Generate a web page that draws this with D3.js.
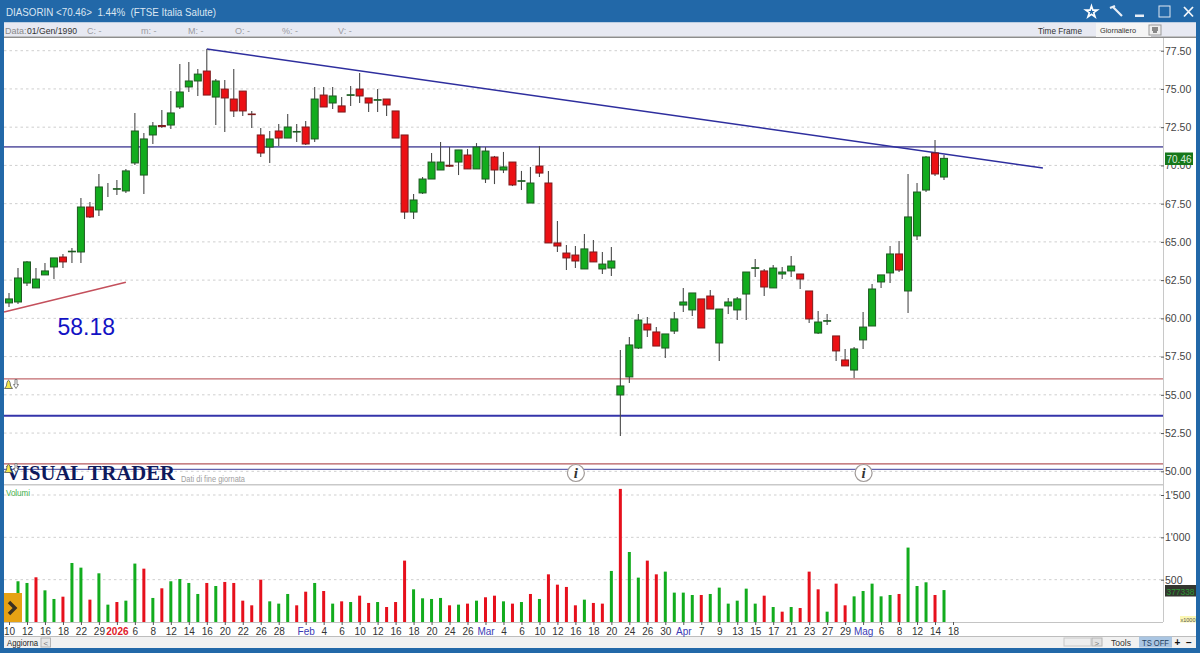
<!DOCTYPE html>
<html><head><meta charset="utf-8">
<script src="https://cdn.jsdelivr.net/npm/d3@7"></script>
<style>html,body{margin:0;padding:0;background:#fff;overflow:hidden}svg{display:block}text{font-family:"Liberation Sans",Arial,sans-serif}</style>
</head><body><svg id="c" width="1200" height="653"></svg>
<script>
const opens=[61.01,61.07,62.31,61.99,62.84,63.36,64.01,64.35,64.34,67.28,67.09,68.59,68.44,68.33,70.16,69.37,71.99,72.61,72.64,73.82,75.13,75.52,76.17,74.47,74.99,74.34,74.86,73.36,71.99,71.2,72.25,71.79,72.18,72.51,71.73,74.6,74.08,73.89,74.58,74.99,74.41,74.26,74.34,73.56,71.99,66.95,68.2,69.11,69.7,70.01,70.22,70.68,69.77,69.11,70.55,69.7,70.22,68.96,67.54,69.96,68.85,64.93,64.27,64.14,63.23,64.34,63.23,63.29,54.99,56.17,58.06,59.63,59.11,58.06,59.17,60.87,60.55,61.27,61.46,58.39,60.81,60.55,61.59,63.27,63.1,61.99,62.9,63.1,62.9,61.79,59.04,59.81,58.85,57.28,56.62,58.59,59.5,62.38,62.97,64.21,61.79,65.39,68.39,70.81,69.24];
const highs=[61.66,63.29,63.75,63.29,63.62,63.95,64.21,64.6,67.87,67.61,69.44,68.85,69.05,69.77,73.43,72.12,72.84,73.62,74.86,76.63,76.76,76.3,77.61,75.65,75.58,76.3,74.86,73.56,72.45,72.25,72.71,73.36,72.71,72.9,75.13,75.13,75.13,74.47,75.19,76.04,74.41,74.99,74.34,73.56,71.99,68.13,69.24,70.81,71.53,71.2,71.01,71.07,71.46,71.2,70.62,70.88,70.22,69.64,69.9,71.27,69.64,66.37,64.8,64.73,65.52,65.12,64.34,64.67,57.93,58.78,60.28,60.09,59.44,58.98,60.42,61.99,61.66,61.27,61.86,60.61,61.33,61.4,63.03,63.88,63.23,63.49,63.36,64.08,62.9,61.79,60.48,60.28,58.85,58,58.13,60.42,62.25,62.84,64.73,65.06,69.44,68.85,70.62,71.66,70.68];
const lows=[60.74,60.94,62.12,61.99,62.84,62.57,63.29,63.62,63.62,66.56,66.69,67.94,68.07,68.2,70.03,68.13,71.4,72.45,72.38,73.69,74.8,74.54,74.6,72.64,72.18,73.17,73.23,72.45,70.55,70.16,71.27,71.79,71.53,71.33,71.53,73.82,73.69,73.49,73.89,74.08,73.49,73.49,73.23,71.79,66.5,66.5,68.13,69.11,69.7,69.9,69.37,69.77,69.77,68.85,68.78,69.5,68.65,68.39,67.54,69.24,64.93,64.34,63.16,63.29,63.23,63.69,62.9,62.77,52.31,55.78,57.99,58.78,58.19,57.41,58.98,60.42,60.15,59.37,60.61,57.21,60.28,59.89,59.89,62.7,61.46,61.99,62.57,62.7,61.92,59.7,58.98,59.57,57.21,56.89,56.1,58,59.5,61.99,62.31,63.03,60.35,65.12,68.26,69.31,69.05];
const closes=[61.27,62.64,63.69,62.57,63.1,63.95,63.69,64.39,67.28,66.63,68.59,68.59,68.48,69.64,72.25,71.73,72.58,72.54,73.43,74.8,75.52,75.97,74.6,75.52,74.41,73.56,73.56,73.32,70.81,71.73,71.79,72.51,72.22,71.4,74.34,73.82,74.54,73.49,74.62,74.54,74.08,74.3,73.95,71.79,66.95,67.74,69.11,70.22,70.22,69.95,71.01,69.77,71.2,70.94,69.7,69.9,68.72,69,68.85,69.5,64.93,64.73,63.95,63.75,64.54,63.69,63.55,63.75,55.58,58.26,59.89,59.24,58.19,58.98,59.96,61.07,61.66,59.37,60.61,60.61,61.07,61.27,63.03,63.31,62.05,63.29,63.03,63.42,62.57,59.96,59.76,59.85,57.87,56.89,58,59.43,61.92,62.84,64.21,63.16,66.63,68.26,70.55,69.44,70.46];
const volumes=[300,481,461,528,374,272,299,697,642,264,575,205,236,252,690,630,284,398,481,508,461,331,461,425,473,461,252,197,500,244,217,331,197,358,461,366,217,244,236,311,225,236,177,236,725,386,280,272,284,197,205,217,252,292,311,244,217,236,331,272,563,441,414,197,264,225,217,603,1572,827,524,725,563,595,347,347,319,319,331,406,217,252,394,217,311,177,122,177,165,595,386,122,453,197,303,366,453,303,319,331,879,425,469,319,377];
const volumeUp=[1,1,1,0,1,1,0,1,1,0,1,1,0,1,1,0,1,0,1,1,1,1,0,1,0,0,0,0,0,1,1,1,0,0,1,0,1,0,1,0,0,1,0,0,0,1,1,1,1,0,1,0,1,0,0,1,0,1,0,1,0,0,0,0,1,0,0,1,0,1,1,0,0,1,1,1,1,0,1,1,1,1,1,1,0,1,0,1,0,0,0,1,0,0,1,1,1,1,1,0,1,1,1,0,1];
const dateTickIndex=[0,2,4,6,8,10,12,14,16,18,20,22,24,26,28,30,33,35,37,39,41,43,45,47,49,51,53,55,57,59,61,63,65,67,69,71,73,75,77,79,81,83,85,87,89,91,93,95,97,99,101,103,105];
const dateTickLabels=["10","12","16","18","22","29","2026","6","8","12","14","16","20","22","26","28","Feb","4","6","10","12","16","18","20","24","26","Mar","4","6","10","12","16","18","20","24","26","30","Apr","7","9","13","15","17","21","23","27","29","Mag","6","8","12","14","18"];
const priceTicks=[50,52.5,55,57.5,60,62.5,65,67.5,70,72.5,75,77.5];
const volumeTicks=[500,1000,1500];
const hLines=[{p:71.21,c:"#6c68ac",w:1.6},{p:56.04,c:"#c26a6e",w:1.3},{p:53.63,c:"#3434aa",w:2},{p:50.48,c:"#b4585c",w:1.3},{p:50.13,c:"#3c3c9c",w:1}];
const trendIndex=[[22,115],[-0.55,13]];
const trendPrice=[[77.61,69.83],[60.42,62.36]];
const trendColor=["#2e2e9e","#c4505c"];
const infoIndex=[63,95];

const svg=d3.select("#c");
const x=d3.scaleLinear().domain([0,105]).range([9,953]);
const y=d3.scaleLinear().domain([50,77.5]).range([471.3,50.7]);
const v=d3.scaleLinear().domain([0,1500]).range([622,495]);
const rect=(a,b,w,h,f,s)=>svg.append("rect").attr("x",a).attr("y",b).attr("width",w).attr("height",h).attr("fill",f).attr("stroke",s||"none");
const text=(a,b,t,o={})=>{const e=svg.append("text").attr("x",a).attr("y",b).text(t).attr("font-size",o.s||11).attr("fill",o.c||"#222").attr("font-weight",o.w||null).attr("font-style",o.i||null).attr("text-anchor",o.a||"start").attr("letter-spacing",o.l||null);if(o.f)e.style("font-family",o.f);if(o.len)e.attr("textLength",o.len).attr("lengthAdjust","spacingAndGlyphs");return e;};

// chrome
rect(0,0,1200,653,"#fff");
rect(0,0,1200,22.5,"#2268a8");
rect(0,0,4,653,"#2268a8");
rect(1196,0,4,653,"#2268a8");
rect(0,648,1200,5,"#2268a8");
rect(4,22.5,1192,14,"#e7e9f2");
rect(4,36.5,1192,1.5,"#8d8d8d");
text(6,16,"DIASORIN <70.46>  1.44%  (FTSE Italia Salute)",{s:11,c:"#dbe6f2",len:210}).style("white-space","pre");
text(5,34,"Data:",{s:9,c:"#8a8a8a"});
text(27,34,"01/Gen/1990",{s:9,c:"#333",len:50});
[["C: -",87],["m: -",141],["M: -",188],["O: -",235],["%: -",282],["V: -",338]].forEach(d=>text(d[1],34,d[0],{s:9,c:"#9a9aa0"}));
text(1038,34,"Time Frame",{s:9,c:"#333",len:44});
rect(1096,23,55,14,"#f5f5f5");
text(1100,33,"Giornaliero",{s:8,c:"#333",len:36});
rect(1149,25,12,10,"#eee","#999");
svg.append("path").attr("d","M1152 28h6M1152 30h6M1153 32h4").attr("stroke","#222").attr("fill","none");
// window icons
svg.append("path").attr("d",d3.symbol(d3.symbolStar,42)()).attr("transform","translate(1091.5,12)").attr("fill","none").attr("stroke","#fff").attr("stroke-width",1.6);
svg.append("path").attr("d","M1110 8l5 -2M1113 7l9 9").attr("stroke","#e8eef6").attr("stroke-width",2.2).attr("fill","none");
rect(1135,14.5,9,2.5,"#e8eef6");
rect(1159,6,11,11,"none","#dfe8f2");
svg.append("path").attr("d","M1184 7l9 9.5M1193 7l-9 9.5").attr("stroke","#f2f6fa").attr("stroke-width",1.8);

// grid
const grid=(vals,sc)=>svg.append("g").selectAll("line").data(vals).join("line").attr("x1",4).attr("x2",1161).attr("y1",d=>sc(d)).attr("y2",d=>sc(d)).attr("stroke","#cfcfcf").attr("stroke-dasharray","2.5,3");
grid(priceTicks,y);grid(volumeTicks,v);

rect(1163,38,1,584,"#c8c8c8");
rect(4,622,1159,1,"#c4c4c4");
rect(4,484,1159,1.5,"#c9c9c9");
rect(4,636,1192,12,"#f1f1f1");
rect(4,636,1192,1,"#bdbdbd");

// axes
const pa=d3.axisRight(y).tickValues(priceTicks).tickFormat(d3.format(".2f")).tickSize(3).tickPadding(1);
const pg=svg.append("g").attr("transform","translate(1161,0)").call(pa);
pg.select(".domain").remove();
pg.selectAll("text").attr("font-size",10.5).attr("fill","#444").style("font-family","'Liberation Sans'");
pg.selectAll("line").attr("stroke","#555");
const va=d3.axisRight(v).tickValues(volumeTicks).tickFormat(d=>d3.format(",")(d).replace(",","'")).tickSize(3).tickPadding(1);
const vg=svg.append("g").attr("transform","translate(1161,0)").call(va);
vg.select(".domain").remove();
vg.selectAll("text").attr("font-size",10.5).attr("fill","#444").style("font-family","'Liberation Sans'");
vg.selectAll("line").attr("stroke","#555");
const da=d3.axisBottom(x).tickValues(dateTickIndex).tickFormat((d,i)=>dateTickLabels[i]).tickSize(3).tickPadding(3);
const dg=svg.append("g").attr("transform","translate(0,622)").call(da);
dg.select(".domain").remove();
dg.selectAll("line").attr("stroke","#555");
dg.selectAll("text").attr("font-size",10).attr("fill",(d,i)=>{const l=dateTickLabels[i];return l==="2026"?"#e01a2a":/[a-z]/i.test(l)?"#3a3ab4":"#333";}).attr("font-weight",(d,i)=>dateTickLabels[i]==="2026"?"bold":null).style("font-family","'Liberation Sans'");

// horizontal and trend lines
svg.append("g").selectAll("line").data(hLines).join("line").attr("x1",4).attr("x2",1163).attr("y1",d=>y(d.p)).attr("y2",d=>y(d.p)).attr("stroke",d=>d.c).attr("stroke-width",d=>d.w);
svg.append("g").selectAll("line").data(trendIndex).join("line").attr("x1",d=>x(d[0])).attr("x2",d=>x(d[1])).attr("y1",(d,i)=>y(trendPrice[i][0])).attr("y2",(d,i)=>y(trendPrice[i][1])).attr("stroke",(d,i)=>trendColor[i]).attr("stroke-width",1.5);

// candles
const cw=7;
const cg=svg.append("g").selectAll("g").data(closes).join("g");
cg.append("line").attr("x1",(d,i)=>x(i)).attr("x2",(d,i)=>x(i)).attr("y1",(d,i)=>y(highs[i])).attr("y2",(d,i)=>y(lows[i])).attr("stroke","#4a4a4a").attr("stroke-width",1.1);
cg.append("rect").attr("x",(d,i)=>x(i)-cw/2).attr("width",cw)
 .attr("y",(d,i)=>y(Math.max(opens[i],d))).attr("height",(d,i)=>Math.abs(y(opens[i])-y(d)))
 .attr("fill",(d,i)=>d>=opens[i]?"#12ac1e":"#ec1014").attr("stroke",(d,i)=>d>=opens[i]?"#1f5a22":"#7c1a1c").attr("stroke-width",1);

// volumes
svg.append("g").selectAll("rect").data(volumes).join("rect").attr("x",(d,i)=>x(i)-1.5).attr("width",3).attr("y",d=>v(d)).attr("height",d=>v(0)-v(d)).attr("fill",(d,i)=>volumeUp[i]?"#12ac1e":"#e6101c");

// annotations
text(57.5,335,"58.18",{s:23,c:"#1212c4"});
text(6,480,"VISUAL TRADER",{s:20.5,c:"#0e1a5c",w:"bold",f:"'Liberation Serif'",len:169});
text(181,482,"Dati di fine giornata",{s:8.5,c:"#a0a0a0",len:64});
text(6,496,"Volumi",{s:9.5,c:"#3fb04a",len:24});
const bell=(b,c)=>{svg.append("path").attr("d",`M4.5 ${b+9}q2.5 -2 2.5 -6q1.5 -4.5 3 0q0 4 2.5 6z`).attr("fill","#f4ea4e").attr("stroke","#555").attr("stroke-width",.8);
 svg.append("path").attr("d",`M15 ${b}v5h-1.5l2.5 4l2.5 -4h-1.5v-5z`).attr("fill",c).attr("stroke","#666").attr("stroke-width",.8);};
bell(379.5,"#fff");bell(463.5,"#fff");
infoIndex.forEach(i=>{svg.append("circle").attr("cx",x(i)+.5).attr("cy",473).attr("r",8.5).attr("fill","#fff").attr("stroke","#a09a98").attr("stroke-width",1.2);
 text(x(i)+.5,478,"i",{s:15,c:"#333",w:"bold",i:"italic",f:"'Liberation Serif'",a:"middle"});});
rect(4,593,18,29,"#e6a214");
svg.append("path").attr("d","M9 602l6 6l-6 6").attr("fill","none").attr("stroke","#3a3022").attr("stroke-width",3.4);

// price tags
rect(1165,152.5,28,12.5,"#16771a");
text(1179,162.5,closes[closes.length-1].toFixed(2),{s:10,c:"#d9ead9",a:"middle"});
rect(1165,585,31,11.5,"#33362f");
text(1166.5,594.5,"377338",{s:9.5,c:"#2a9a34",len:28});
rect(1180,616,16,6.5,"#fbf7b4");
text(1180.5,621.5,"x1000",{s:6,c:"#555",len:15});

// footer
text(7,646,"Aggiorna",{s:9.5,c:"#222",len:31});
rect(41,638,9.5,9,"#e6e6e6","#b4b4b4");
text(43.5,646,"<",{s:8,c:"#777"});
rect(1064,638,27,8,"#eee","#c8c8c8");
rect(1092,638,10,8,"#e2e2e2","#b4b4b4");
text(1094.5,645.5,">",{s:8,c:"#777"});
text(1111,645.5,"Tools",{s:9.5,c:"#333",len:20});
rect(1139,636.5,33,11,"#a9c5e2");
text(1142,645.5,"TS OFF",{s:9.5,c:"#1e3e5e",len:27});
text(1174.5,646,"+",{s:10,c:"#111",w:"bold"});
text(1186,645.5,"−",{s:10,c:"#111",w:"bold"});
</script></body></html>
